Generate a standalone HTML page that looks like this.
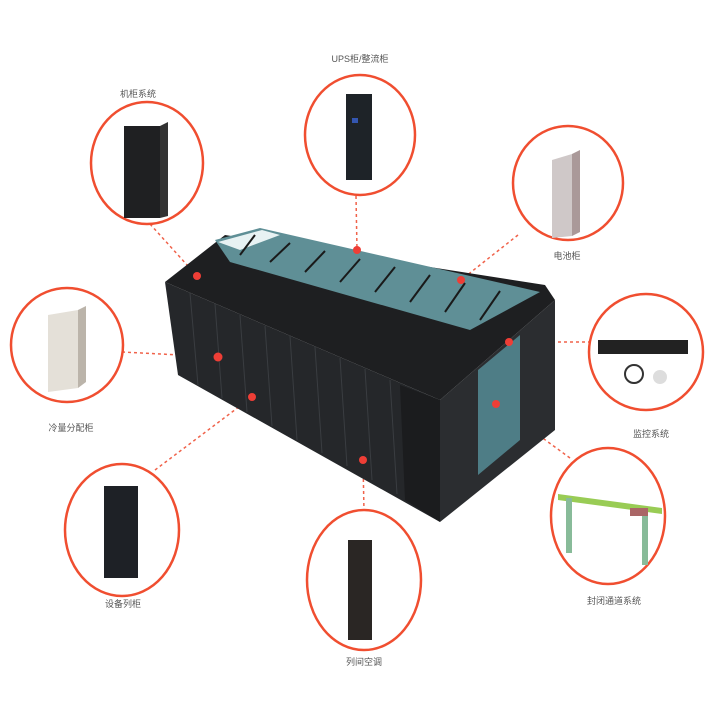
<!DOCTYPE html>
<html><head><meta charset="utf-8"><style>
html,body{margin:0;padding:0;background:#fff;width:728px;height:702px;overflow:hidden}
text{font-family:"Liberation Sans","Noto Sans CJK SC",sans-serif;font-size:9px;fill:#555;text-anchor:middle}
</style></head><body>
<svg width="728" height="702" viewBox="0 0 728 702" xmlns="http://www.w3.org/2000/svg">
<g stroke="#f0624a" stroke-width="1.5" stroke-dasharray="3,3" fill="none">
<line x1="150" y1="224" x2="197" y2="276"/>
<line x1="356" y1="196" x2="357" y2="250"/>
<line x1="518" y1="235" x2="461" y2="280"/>
<line x1="122" y1="352" x2="218" y2="357"/>
<line x1="591" y1="342" x2="509" y2="342"/>
<line x1="155" y1="470" x2="252" y2="397"/>
<line x1="364" y1="512" x2="363" y2="460"/>
<line x1="570" y1="458" x2="496" y2="404"/>
</g>
<!-- main block -->
<polygon points="165,282 440,400 555,300 545,285 225,235" fill="#1e1f21"/>
<polygon points="215,240 260,228 540,292 470,330 230,262" fill="#5f8f96"/>
<polygon points="218,242 262,230 280,235 240,250" fill="#e8f2f3"/>
<g stroke="#1a1a1a" stroke-width="2">
<line x1="255" y1="235" x2="240" y2="255"/><line x1="290" y1="243" x2="270" y2="262"/>
<line x1="325" y1="251" x2="305" y2="272"/><line x1="360" y1="259" x2="340" y2="282"/>
<line x1="395" y1="267" x2="375" y2="292"/><line x1="430" y1="275" x2="410" y2="302"/>
<line x1="465" y1="283" x2="445" y2="312"/><line x1="500" y1="291" x2="480" y2="320"/>
</g>
<polygon points="165,282 440,400 440,522 178,375" fill="#25272a"/>
<polygon points="440,400 555,300 555,430 440,522" fill="#2b2d30"/>
<polygon points="478,370 520,335 520,440 478,475" fill="#4e7d86"/>
<polygon points="400,385 440,400 440,522 405,500" fill="#1b1c1e"/>
<g stroke="#3a3d41" stroke-width="1">
<line x1="190" y1="293" x2="198" y2="385"/><line x1="215" y1="304" x2="222" y2="398"/>
<line x1="240" y1="315" x2="247" y2="412"/><line x1="265" y1="326" x2="272" y2="426"/>
<line x1="290" y1="336" x2="297" y2="440"/><line x1="315" y1="347" x2="322" y2="453"/>
<line x1="340" y1="358" x2="347" y2="466"/><line x1="365" y1="369" x2="372" y2="480"/>
<line x1="390" y1="380" x2="397" y2="494"/>
</g>
<g fill="#ee3e36">
<circle cx="197" cy="276" r="4"/><circle cx="357" cy="250" r="4"/><circle cx="461" cy="280" r="4"/>
<circle cx="218" cy="357" r="4.5"/><circle cx="252" cy="397" r="4"/><circle cx="363" cy="460" r="4"/>
<circle cx="509" cy="342" r="4"/><circle cx="496" cy="404" r="4"/>
</g>
<!-- circles -->
<g stroke="#f04e30" stroke-width="2.5" fill="#fff">
<ellipse cx="147" cy="163" rx="56" ry="61"/>
<ellipse cx="360" cy="135" rx="55" ry="60"/>
<ellipse cx="568" cy="183" rx="55" ry="57"/>
<ellipse cx="67" cy="345" rx="56" ry="57"/>
<ellipse cx="646" cy="352" rx="57" ry="58"/>
<ellipse cx="122" cy="530" rx="57" ry="66"/>
<ellipse cx="364" cy="580" rx="57" ry="70"/>
<ellipse cx="608" cy="516" rx="57" ry="68"/>
</g>
<!-- icons -->
<rect x="124" y="126" width="36" height="92" fill="#1f2022"/><polygon points="160,126 168,122 168,216 160,218" fill="#333"/>
<rect x="346" y="94" width="26" height="86" fill="#1e2328"/><rect x="352" y="118" width="6" height="5" fill="#3456b0"/>
<polygon points="552,160 572,154 572,236 552,238" fill="#cfc8c8"/><polygon points="572,154 580,150 580,232 572,236" fill="#a99"/>
<polygon points="48,315 78,310 78,388 48,392" fill="#e4e0d8"/><polygon points="78,310 86,306 86,382 78,388" fill="#bbb4aa"/>
<rect x="598" y="340" width="90" height="14" fill="#222"/><circle cx="634" cy="374" r="9" fill="none" stroke="#333" stroke-width="2"/><circle cx="660" cy="377" r="7" fill="#ddd"/>
<rect x="104" y="486" width="34" height="92" fill="#1e2126"/>
<rect x="348" y="540" width="24" height="100" fill="#2a2624"/>
<polygon points="558,494 662,508 662,514 558,500" fill="#9c5"/>
<rect x="566" y="498" width="6" height="55" fill="#8b9"/><rect x="642" y="510" width="6" height="55" fill="#8b9"/>
<rect x="630" y="508" width="18" height="8" fill="#a66"/>
<!-- labels -->
<text x="138" y="97">机柜系统</text>
<text x="360" y="62">UPS柜/整流柜</text>
<text x="567" y="259">电池柜</text>
<text x="71" y="431">冷量分配柜</text>
<text x="651" y="437">监控系统</text>
<text x="123" y="607">设备列柜</text>
<text x="364" y="665">列间空调</text>
<text x="614" y="604">封闭通道系统</text>
</svg>
</body></html>
